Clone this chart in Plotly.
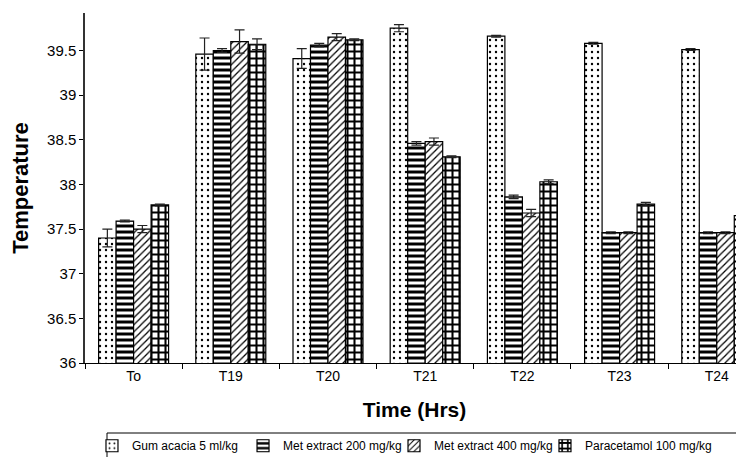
import plotly.graph_objects as go

categories = ["To", "T19", "T20", "T21", "T22", "T23", "T24"]

series_names = ["Gum acacia 5 ml/kg", "Met extract 200 mg/kg",
                "Met extract 400 mg/kg", "Paracetamol 100 mg/kg"]

gum_vals = [37.40, 39.46, 39.41, 39.75, 39.66, 39.58, 39.51]
gum_err = [0.10, 0.18, 0.11, 0.04, 0.01, 0.01, 0.01]

met200_vals = [37.59, 39.50, 39.56, 38.46, 37.86, 37.46, 37.46]
met200_err = [0.01, 0.02, 0.02, 0.02, 0.02, 0.01, 0.01]

met400_vals = [37.50, 39.60, 39.65, 38.48, 37.68, 37.46, 37.46]
met400_err = [0.04, 0.13, 0.04, 0.04, 0.04, 0.01, 0.01]

para_vals = [37.77, 39.57, 39.62, 38.31, 38.03, 37.78, 37.65]
para_err = [0.01, 0.06, 0.01, 0.01, 0.02, 0.02, 0.04]

values = [gum_vals, met200_vals, met400_vals, para_vals]
errors = [gum_err, met200_err, met400_err, para_err]

patterns = [
    dict(shape=".", fgcolor="black", bgcolor="white", size=6, solidity=0.12, fgopacity=1),
    dict(shape="-", fgcolor="black", bgcolor="white", size=6, solidity=0.5, fgopacity=1),
    dict(shape="/", fgcolor="black", bgcolor="white", size=5, solidity=0.25, fgopacity=1),
    dict(shape="+", fgcolor="black", bgcolor="white", size=7, solidity=0.5, fgopacity=1),
]
legend_ids = ["legend", "legend2", "legend3", "legend4"]
legend_x = [0.0106, 0.2398, 0.4689, 0.6980]

fig = go.Figure()
for name, v, e, p, lg in zip(series_names, values, errors, patterns, legend_ids):
    fig.add_trace(go.Bar(
        x=categories, y=v, name=name, legend=lg,
        marker=dict(color="white", pattern=p, line=dict(color="black", width=1.2)),
        error_y=dict(type="data", array=e, visible=True, color="#222",
                     thickness=1.2, width=5),
    ))

font_family = "Liberation Sans, Arial, sans-serif"

# legend frame (the reference's legend box runs off the right edge)
fig.add_shape(type="rect", xref="paper", yref="paper",
              x0=0.0334, x1=1.2, y0=-0.2, y1=-0.34,
              line=dict(color="black", width=1), fillcolor="rgba(0,0,0,0)",
              layer="below")

common_legend = dict(orientation="h", yanchor="top", y=-0.195, xanchor="left",
                     bgcolor="rgba(0,0,0,0)", borderwidth=0, font=dict(size=12),
                     itemwidth=30, tracegroupgap=0, traceorder="normal")

legends = {lg: dict(common_legend, x=lx) for lg, lx in zip(legend_ids, legend_x)}

fig.update_layout(
    width=736, height=449,
    margin=dict(l=77, r=0, t=5, b=94, autoexpand=False),
    paper_bgcolor="white", plot_bgcolor="white",
    barmode="group", bargap=0.28, bargroupgap=0,
    font=dict(family=font_family, size=13, color="black"),
    showlegend=True,
    xaxis=dict(
        range=[-0.5, 6.28], showline=True, linecolor="black", linewidth=1,
        ticks="outside", tickson="boundaries", ticklen=5, tickcolor="black",
        showgrid=False, tickfont=dict(size=14), automargin=False,
        title=dict(text="<b>Time (Hrs)</b>", font=dict(size=21), standoff=19),
    ),
    yaxis=dict(
        range=[36, 39.92], dtick=0.5, tick0=36, showline=True, linecolor="#333",
        linewidth=1.5, ticks="outside", ticklen=4, tickcolor="black",
        showgrid=False, zeroline=False, tickfont=dict(size=15), automargin=False,
        title=dict(text="<b>Temperature</b>", font=dict(size=22), standoff=13),
    ),
    **legends,
)

fig.write_html("out.html")
